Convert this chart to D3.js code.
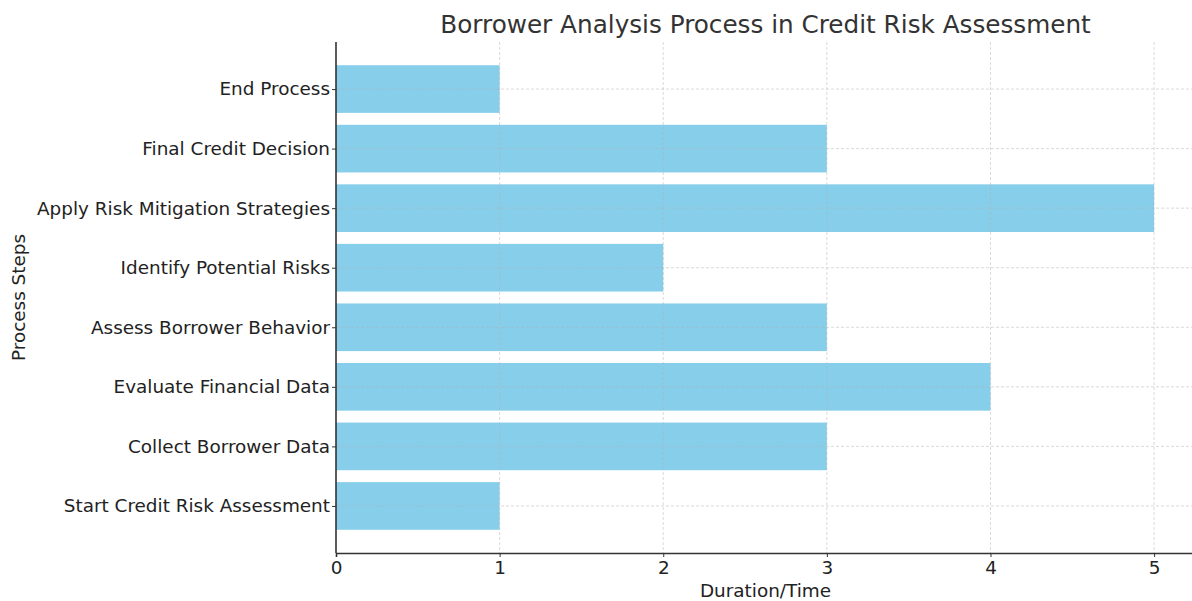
<!DOCTYPE html>
<html>
<head>
<meta charset="utf-8">
<script src="https://cdn.jsdelivr.net/npm/d3@7"></script>
<style>
  body { margin: 0; background: #fff; }
  svg { display: block; font-family: 'DejaVu Sans', sans-serif; }
</style>
</head>
<body>
<div id="chart"></div>
<script>
const steps = [
  'Start Credit Risk Assessment',
  'Collect Borrower Data',
  'Evaluate Financial Data',
  'Assess Borrower Behavior',
  'Identify Potential Risks',
  'Apply Risk Mitigation Strategies',
  'Final Credit Decision',
  'End Process'
]
const durations = [1, 3, 4, 3, 2, 5, 3, 1]
const xTicks = [0, 1, 2, 3, 4, 5]

const width = 1192, height = 601
const margin = { top: 42, right: -3, bottom: 48, left: 336 }
const labelSize = 18.4

const svg = d3.select('#chart').append('svg')
  .attr('width', width).attr('height', height)

const x = d3.scaleLinear()
  .domain([0, 5.25])
  .range([margin.left, width - margin.right])

// bars sit at integer positions, matplotlib-like padding
const y = d3.scaleLinear()
  .domain([-0.79, steps.length - 1 + 0.79])
  .range([height - margin.bottom, margin.top])

const barH = Math.abs(y(0.4) - y(-0.4))

// bars
svg.append('g').selectAll('rect')
  .data(durations)
  .join('rect')
  .attr('x', x(0))
  .attr('y', (d, i) => y(i) - barH / 2)
  .attr('width', d => x(d) - x(0))
  .attr('height', barH)
  .attr('fill', '#87ceeb')

// grid on top
const grid = svg.append('g')
  .attr('stroke', '#b0b0b0')
  .attr('stroke-opacity', 0.6)
  .attr('stroke-dasharray', '3,2')
  .attr('stroke-width', 0.8)
grid.selectAll('line.v')
  .data(xTicks.filter(t => t > 0))
  .join('line')
  .attr('class', 'v')
  .attr('x1', d => x(d)).attr('x2', d => x(d))
  .attr('y1', margin.top).attr('y2', height - margin.bottom)
grid.selectAll('line.h')
  .data(steps)
  .join('line')
  .attr('class', 'h')
  .attr('x1', margin.left).attr('x2', width)
  .attr('y1', (d, i) => y(i)).attr('y2', (d, i) => y(i))

// x axis
const xAxis = svg.append('g')
  .attr('transform', `translate(0,${height - margin.bottom})`)
  .call(d3.axisBottom(x).tickValues(xTicks).tickSize(4).tickPadding(4).tickFormat(d3.format('d')))
xAxis.select('.domain').attr('stroke', '#333').attr('stroke-width', 1.6)
xAxis.selectAll('.tick line').attr('stroke', '#333')
xAxis.selectAll('.tick text').attr('font-size', labelSize).attr('fill', '#222')
  .attr('font-family', "'DejaVu Sans', sans-serif")

// y axis
const yAxis = svg.append('g')
  .attr('transform', `translate(${margin.left},0)`)
  .call(d3.axisLeft(y).tickValues(d3.range(steps.length)).tickSize(4).tickPadding(2)
    .tickFormat(i => steps[i]))
yAxis.select('.domain').remove()
yAxis.append('line')
  .attr('y1', margin.top).attr('y2', height - margin.bottom)
  .attr('stroke', '#333').attr('stroke-width', 1.6)
yAxis.selectAll('.tick line').attr('stroke', '#333')
yAxis.selectAll('.tick text').attr('font-size', labelSize).attr('fill', '#222')
  .attr('font-family', "'DejaVu Sans', sans-serif")

// labels
svg.append('text')
  .attr('x', (margin.left + width - margin.right) / 2)
  .attr('y', 33)
  .attr('text-anchor', 'middle')
  .attr('font-size', 24.7)
  .attr('fill', '#333')
  .text('Borrower Analysis Process in Credit Risk Assessment')

svg.append('text')
  .attr('x', (margin.left + width - margin.right) / 2)
  .attr('y', 597)
  .attr('text-anchor', 'middle')
  .attr('font-size', labelSize)
  .attr('fill', '#222')
  .text('Duration/Time')

svg.append('text')
  .attr('transform', `translate(25,${(margin.top + height - margin.bottom) / 2}) rotate(-90)`)
  .attr('text-anchor', 'middle')
  .attr('font-size', labelSize)
  .attr('fill', '#222')
  .text('Process Steps')
</script>
</body>
</html>
